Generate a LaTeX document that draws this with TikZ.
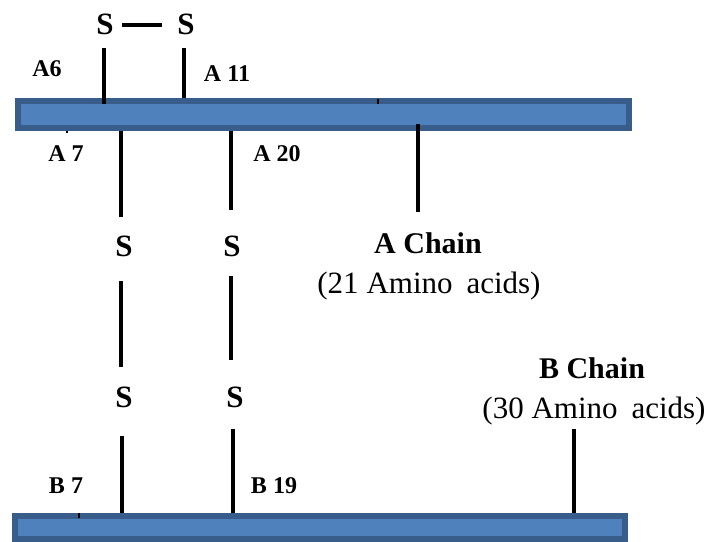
\documentclass[tikz,border=0pt]{standalone}
\usepackage{fontspec}
\setmainfont{Liberation Serif}
\definecolor{barfill}{HTML}{4F81BD}
\definecolor{barline}{HTML}{385D8A}
\begin{document}
\begin{tikzpicture}[x=1bp,y=-1bp,
  bond/.style={line width=3.3bp,black},
  tick/.style={line width=2.4bp,black},
  sulf/.style={font=\fontsize{31bp}{36bp}\selectfont\bfseries,anchor=base,inner sep=0pt},
  lab/.style={font=\fontsize{24bp}{28bp}\selectfont\bfseries,anchor=base,inner sep=0pt},
  title/.style={font=\fontsize{30bp}{36bp}\selectfont\bfseries,anchor=base,inner sep=0pt},
  sub/.style={font=\fontsize{31bp}{36bp}\selectfont,anchor=base,inner sep=0pt}]
\useasboundingbox (0,0) rectangle (712,542);

% bars
\fill[barline] (15,98) rectangle (632,131);
\fill[barfill] (21,104) rectangle (626,125);
\node[inner sep=0pt,minimum size=0pt] (topbar) at (323.5,114.5) {};
\fill[barline] (12,513) rectangle (628,542);
\fill[barfill] (18,519) rectangle (622,536);
\node[inner sep=0pt,minimum size=0pt] (botbar) at (320,527.5) {};

% top disulfide
\node[sulf] (s1) at (105,35) {S};
\node[sulf] (s2) at (186,35) {S};
\coordinate (d1) at (122,25);
\coordinate (d2) at (162,25);
\draw[bond] (d1) -- (d2);
\coordinate (s1b) at (104,48);
\coordinate (s1e) at (104,104);
\coordinate (s2b) at (184,48);
\coordinate (s2e) at (184,98);
\draw[bond] (s1b) -- (s1e);
\draw[bond] (s2b) -- (s2e);
\node[lab] (a6) at (47,77) {A6};
\node[lab] (a11) at (227,82) {A 11};

% small ticks
\coordinate (t1a) at (378,99); \coordinate (t1b) at (378,104);
\draw[tick] (t1a) -- (t1b);
\coordinate (t2a) at (67,131); \coordinate (t2b) at (67,133);
\draw[tick] (t2a) -- (t2b);
\coordinate (t3a) at (79,513); \coordinate (t3b) at (79,518);
\draw[tick] (t3a) -- (t3b);

% labels below A chain
\node[lab] (a7) at (66,162) {A 7};
\node[lab] (a20) at (277,162) {A 20};

% interchain bonds
\coordinate (l1a) at (121,131); \coordinate (l1b) at (121,217);
\coordinate (l2a) at (231,131); \coordinate (l2b) at (231,210);
\draw[bond] (l1a) -- (l1b);
\draw[bond] (l2a) -- (l2b);
\node[sulf] (s3) at (124,257) {S};
\node[sulf] (s4) at (232,257) {S};
\coordinate (l3a) at (121,281); \coordinate (l3b) at (121,367);
\coordinate (l4a) at (231,276); \coordinate (l4b) at (231,360);
\draw[bond] (l3a) -- (l3b);
\draw[bond] (l4a) -- (l4b);
\node[sulf] (s5) at (124,407) {S};
\node[sulf] (s6) at (235,407) {S};
\coordinate (l5a) at (122,436); \coordinate (l5b) at (122,513);
\coordinate (l6a) at (233,429); \coordinate (l6b) at (233,513);
\draw[bond] (l5a) -- (l5b);
\draw[bond] (l6a) -- (l6b);
\node[lab] (b7) at (66,493) {B 7};
\node[lab] (b19) at (274,493) {B 19};

% chain labels
\coordinate (ca1) at (418,124); \coordinate (ca2) at (418,212);
\draw[bond] (ca1) -- (ca2);
\node[title] (achain) at (428,254) {A Chain};
\node[sub] (asub) at (429,293) {(21 Amino\hspace{0.45em}acids)};
\node[title] (bchain) at (592,378) {B Chain};
\node[sub] (bsub) at (594,418) {(30 Amino\hspace{0.45em}acids)};
\coordinate (cb1) at (574,429); \coordinate (cb2) at (574,513);
\draw[bond] (cb1) -- (cb2);
\end{tikzpicture}
\end{document}
